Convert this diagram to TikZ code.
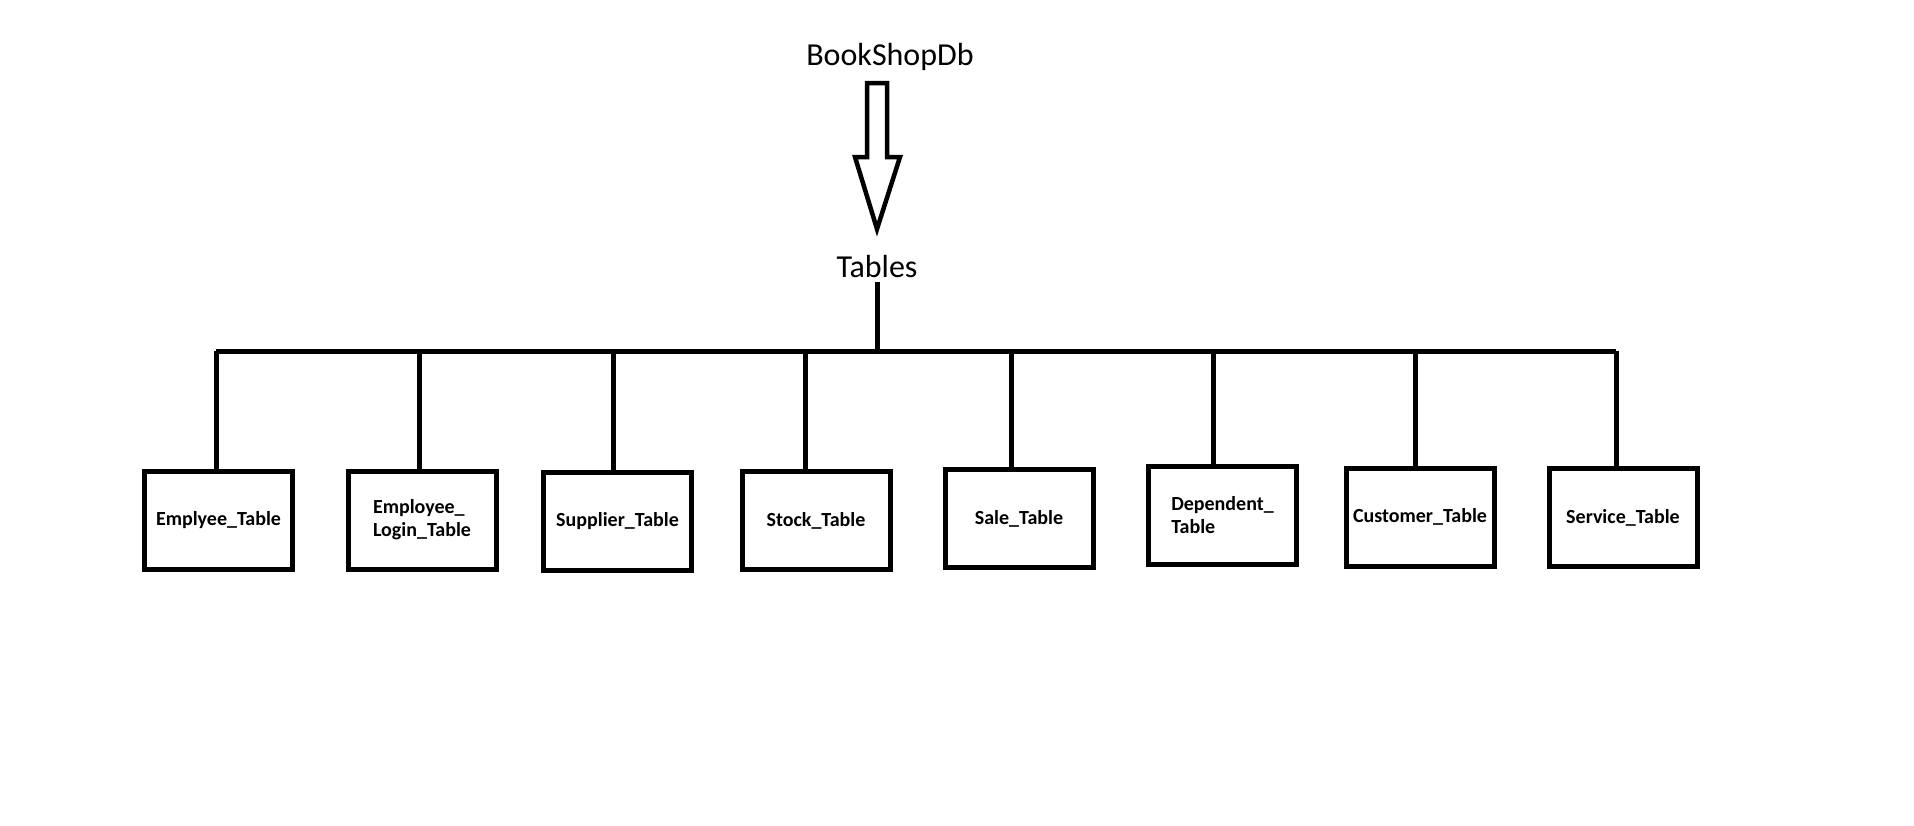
\documentclass[tikz,border=0pt]{standalone}
\usepackage{fontspec}
\setmainfont{Carlito}
\begin{document}
\begin{tikzpicture}[x=1pt,y=-1pt,
  line width=5pt,
  tbl/.style={draw, rectangle, minimum width=148pt, minimum height=98pt, inner sep=0pt,
     font=\bfseries\fontsize{20}{23}\selectfont, align=left},
  title/.style={font=\fontsize{32}{36}\selectfont, inner sep=2pt, anchor=base}]
\useasboundingbox (0,0) rectangle (1914,825);
\node[title] (db) at (890,65) {BookShopDb};
\node[title] (tables) at (877,277) {Tables};
% hollow block arrow
\draw[line width=4.5pt, line join=miter] (867,83) -- (887,83) -- (887,157) -- (900,157) -- (877,229) -- (855,157) -- (867,157) -- cycle;
% boxes
\node[tbl] (e1) at (218.5,520) {Emplyee\_Table};
\node[tbl] (e2) at (422,520) {Employee\_\\Login\_Table};
\node[tbl] (e3) at (617.5,521) {Supplier\_Table};
\node[tbl] (e4) at (816,520.5) {Stock\_Table};
\node[tbl] (e5) at (1019,518.5) {Sale\_Table};
\node[tbl] (e6) at (1222.5,515.5) {Dependent\_\\Table};
\node[tbl] (e7) at (1420,517) {Customer\_Table};
\node[tbl] (e8) at (1623,517.5) {Service\_Table};
% bus
\coordinate (bt) at (877,351);
\coordinate (b1) at (216,351);
\coordinate (b2) at (419,351);
\coordinate (b3) at (613,351);
\coordinate (b4) at (805,351);
\coordinate (b5) at (1011,351);
\coordinate (b6) at (1213,351);
\coordinate (b7) at (1415,351);
\coordinate (b8) at (1616,351);
\draw (tables.south) -- (bt);
\draw (b1) -- (b8);
\foreach \i in {1,...,8} { \draw (b\i) -- (b\i |- e\i.north); }
\end{tikzpicture}
\end{document}
